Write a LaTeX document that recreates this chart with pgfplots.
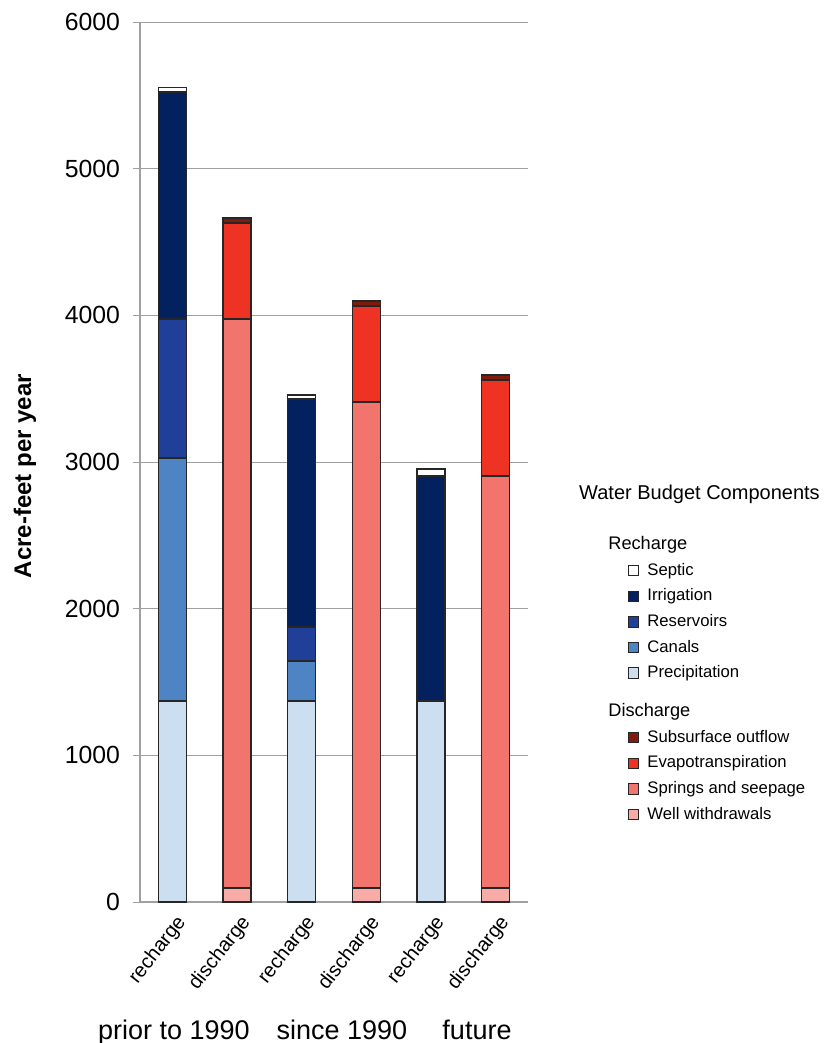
\documentclass[border=0pt]{standalone}
\usepackage{pgfplots}
\pgfplotsset{compat=1.18}
\usepackage{pgfplotstable}
\usepackage{fontspec}
\setmainfont{Liberation Sans}

\definecolor{cSeptic}{HTML}{FFFFFF}
\definecolor{cIrr}{HTML}{02215E}
\definecolor{cRes}{HTML}{1F3F98}
\definecolor{cCanal}{HTML}{4F84C4}
\definecolor{cPrec}{HTML}{CCDFF1}
\definecolor{cSub}{HTML}{801A0C}
\definecolor{cET}{HTML}{EE3324}
\definecolor{cSpr}{HTML}{F1756D}
\definecolor{cWell}{HTML}{F8ACA8}
\definecolor{gridgray}{HTML}{A0A0A0}

% x: 0,2,4 recharge bars; 1,3,5 discharge bars
\pgfplotstableread{
x  prec canal res  irr  sep  well spr  et  sub
0  1370 1657  948  1548 30   0    0    0   0
1  0    0     0    0    0    95   3880 655 34
2  1370 273   232  1555 27   0    0    0   0
3  0    0     0    0    0    95   3314 655 34
4  1370 0     0    1535 48   0    0    0   0
5  0    0     0    0    0    95   2810 654 34
}\budget

\pgfplotsset{sq/.style={legend image code/.code={
  \draw[fill=#1, draw=black!85, line width=0.5pt] (0pt,-2.6pt) rectangle (5.2pt,2.6pt);}}}
\newcommand\ls{\rule[-2pt]{0pt}{8pt}}
\newcommand\hd[1]{\fontsize{9.1}{10}\selectfont\hspace*{-19.5pt}#1}

\begin{document}
\begin{tikzpicture}
\begin{axis}[
    name=ax,
    scale only axis,
    width=194pt, height=440pt,
    ybar stacked,
    bar width=14pt,
    xmin=-0.5, xmax=5.5,
    ymin=0, ymax=6000,
    axis x line=bottom,
    axis y line=left,
    axis line style={-, draw=gridgray, line width=0.6pt},
    ymajorgrids,
    grid style={draw=gridgray, line width=0.5pt},
    ytick={0,1000,...,6000},
    tick align=outside,
    major tick length=3.5pt,
    tick style={draw=gridgray, line width=0.5pt},
    /pgf/number format/assume math mode=true,
    scaled y ticks=false,
    yticklabel style={font=\fontsize{12.4}{14}\selectfont, /pgf/number format/1000 sep={}, xshift=-3pt},
    xtick={0,...,5},
    xticklabels={recharge,discharge,recharge,discharge,recharge,discharge},
    x tick style={draw=none},
    xticklabel style={font=\fontsize{10}{12}\selectfont, rotate=52, anchor=east, xshift=2.5pt, yshift=-7pt},
    extra x ticks={-0.5,1.5,3.5},
    extra x tick labels={},
    extra x tick style={grid=none, major tick length=5.5pt, tick style={draw=gridgray, line width=0.5pt}},
    clip=false,
    legend style={at={(rel axis cs:1.2577,0.4153)}, anchor=north west,
        draw=none, fill=none, inner sep=0pt, outer sep=0pt,
        row sep=5.25pt, column sep=4pt,
        font=\fontsize{8.35}{10}\selectfont,
        nodes={inner sep=0pt, outer sep=0pt}},
    legend cell align=left,
    every axis plot/.append style={draw=black!85, line width=0.7pt},
]
\addplot[fill=cPrec, forget plot] table[x=x, y=prec] {\budget};
\addplot[fill=cCanal, forget plot] table[x=x, y=canal] {\budget};
\addplot[fill=cRes, forget plot] table[x=x, y=res] {\budget};
\addplot[fill=cIrr, forget plot] table[x=x, y=irr] {\budget};
\addplot[fill=cSeptic, forget plot] table[x=x, y=sep] {\budget};
\addplot[fill=cWell, forget plot] table[x=x, y=well] {\budget};
\addplot[fill=cSpr, forget plot] table[x=x, y=spr] {\budget};
\addplot[fill=cET, forget plot] table[x=x, y=et] {\budget};
\addplot[fill=cSub, forget plot] table[x=x, y=sub] {\budget};

\addlegendimage{empty legend}\addlegendentry{\hd{Recharge}\ls}
\addlegendimage{sq=cSeptic}\addlegendentry{Septic\ls}
\addlegendimage{sq=cIrr}\addlegendentry{Irrigation\ls}
\addlegendimage{sq=cRes}\addlegendentry{Reservoirs\ls}
\addlegendimage{sq=cCanal}\addlegendentry{Canals\ls}
\addlegendimage{sq=cPrec}\addlegendentry{Precipitation\ls}
\addlegendimage{empty legend}\addlegendentry{\hd{Discharge}\rule[-2pt]{0pt}{14.75pt}}
\addlegendimage{sq=cSub}\addlegendentry{Subsurface outflow\ls}
\addlegendimage{sq=cET}\addlegendentry{Evapotranspiration\ls}
\addlegendimage{sq=cSpr}\addlegendentry{Springs and seepage\ls}
\addlegendimage{sq=cWell}\addlegendentry{Well withdrawals\ls}

\node[font=\fontsize{10}{12}\selectfont] at (rel axis cs:1.442,0.4636) {Water Budget Components};
\node[font=\fontsize{13.5}{15}\selectfont, anchor=base] at (rel axis cs:0.0876,-0.1557) {prior to 1990};
\node[font=\fontsize{13.5}{15}\selectfont, anchor=base] at (rel axis cs:0.5206,-0.1557) {since 1990};
\node[font=\fontsize{13.5}{15}\selectfont, anchor=base] at (rel axis cs:0.8686,-0.1557) {future};
\node[font=\bfseries\fontsize{12}{14}\selectfont, rotate=90] at (rel axis cs:-0.2964,0.484) {Acre-feet per year};
\end{axis}
\pgfresetboundingbox
\path[use as bounding box] ([shift={(-70pt,-70.5pt)}]ax.south west) rectangle ++(412.5pt,521.5pt);
\end{tikzpicture}
\end{document}
